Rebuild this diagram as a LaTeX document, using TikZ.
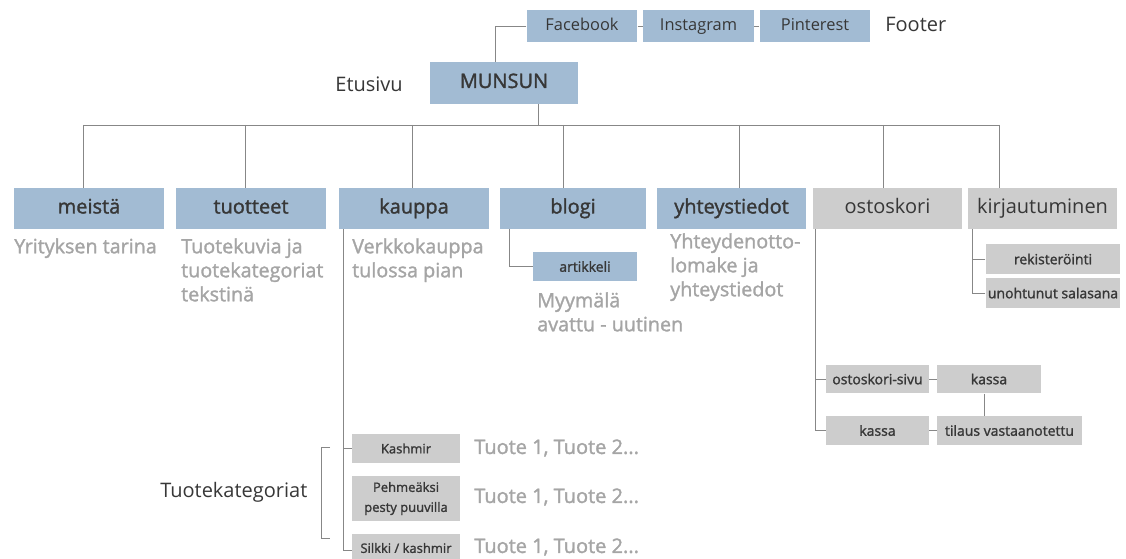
\documentclass[tikz,border=0pt]{standalone}
\usepackage{fontspec}
\setmainfont{Open Sans}
\newfontfamily\semi[FakeBold=1.5]{Open Sans}
\definecolor{boxblue}{RGB}{162,187,211}
\definecolor{boxgrey}{RGB}{205,205,205}
\definecolor{txtdark}{RGB}{55,55,55}
\definecolor{txtgrey}{RGB}{165,165,165}
\definecolor{linegrey}{RGB}{135,135,135}
\tikzset{
  topbox/.style={fill=boxblue, minimum width=112pt, minimum height=30.75pt, inner sep=0pt,
    text=txtdark, text height=10.5pt, text depth=3pt, font=\semi\fontsize{15}{18}\selectfont},
  greybox/.style={topbox, fill=boxgrey, font=\fontsize{15}{18}\selectfont},
  socialbox/.style={fill=boxblue, minimum width=83pt, minimum height=24pt, inner sep=0pt,
    text=txtdark, text height=9pt, text depth=2.5pt, font=\fontsize{12.3}{15}\selectfont},
  subbox/.style={fill=boxgrey, minimum height=21.5pt, inner sep=0pt, align=center,
    text=txtdark, font=\semi\fontsize{10.5}{15}\selectfont},
  desc/.style={anchor=north west, inner sep=0pt, align=left, text=txtgrey,
    font=\semi\fontsize{14.8}{18}\selectfont},
  tuote/.style={anchor=west, inner sep=0pt, text=txtgrey, font=\semi\fontsize{15}{18}\selectfont},
  sidetext/.style={inner sep=0pt, text=txtdark, font=\fontsize{15}{18}\selectfont},
  link/.style={draw=linegrey, line width=0.6pt}
}
\begin{document}
\begin{tikzpicture}[x=0.75pt,y=0.75pt,yscale=-1,xscale=1]
\useasboundingbox (0,0) rectangle (1126,559);

% Footer
\node[socialbox] (facebook) at (582,26) {Facebook};
\node[socialbox] (instagram) at (698.5,26) {Instagram};
\node[socialbox] (pinterest) at (815,26) {Pinterest};
\node[sidetext, anchor=base west] (footer) at (885,32) {Footer};

% Etusivu
\node[topbox, minimum width=111pt, minimum height=31.5pt] (munsun) at (504,83) {MUNSUN};
\node[sidetext, anchor=base east] (etusivu) at (403,92) {Etusivu};

% paasivut
\node[topbox] (meista) at (89,208.5) {meistä};
\node[topbox] (tuotteet) at (251,208.5) {tuotteet};
\node[topbox] (kauppa) at (414,208.5) {kauppa};
\node[topbox, minimum width=109.5pt] (blogi) at (573,208.5) {blogi};
\node[topbox] (yhteys) at (731.5,208.5) {yhteystiedot};
\node[greybox] (ostoskori) at (887.5,208.5) {ostoskori};
\node[greybox] (kirjaut) at (1042.5,208.5) {kirjautuminen};

% kuvaukset
\node[desc] (tarina) at (14,238) {Yrityksen tarina};
\node[desc] (tuotekuvat) at (181,238) {Tuotekuvia ja\\tuotekategoriat\\tekstinä};
\node[desc] (verkko) at (352,238) {Verkkokauppa\\tulossa pian};
\node[desc] (yhteydenotto) at (670,233) {Yhteydenotto-\\lomake ja\\yhteystiedot};
\node[desc] (uutinen) at (537,292) {Myymälä\\avattu - uutinen};

% alasivut
\node[subbox, fill=boxblue, minimum width=78pt, minimum height=21.75pt] (artikkeli) at (585,266.5) {artikkeli};
\node[subbox, minimum width=101pt, minimum height=22.5pt] (rekisteri) at (1053,259) {rekisteröinti};
\node[subbox, minimum width=101pt, minimum height=22.5pt] (salasana) at (1053,293) {unohtunut salasana};
\node[subbox, minimum width=77.25pt] (sivu) at (877.5,379) {ostoskori-sivu};
\node[subbox, minimum width=78pt] (kassa) at (989,379) {kassa};
\node[subbox, minimum width=77.25pt] (kassaB) at (877.5,430.5) {kassa};
\node[subbox, minimum width=108.75pt] (tilaus) at (1009.5,430.5) {tilaus vastaanotettu};

% tuotekategoriat
\node[subbox, minimum width=81pt, font=\semi\fontsize{9.75}{15}\selectfont] (kashmir) at (406,448.5) {Kashmir};
\node[subbox, minimum width=81pt, minimum height=33.75pt, font=\semi\fontsize{9.75}{15}\selectfont] (puuvilla) at (406,498.5) {Pehmeäksi\\pesty puuvilla};
\node[subbox, minimum width=81pt, font=\semi\fontsize{9.75}{15}\selectfont] (silkki) at (406,548) {Silkki / kashmir};
\node[tuote] (tuoteA) at (474,448) {Tuote 1, Tuote 2...};
\node[tuote] (tuoteB) at (474,497) {Tuote 1, Tuote 2...};
\node[tuote] (tuoteC) at (474,547) {Tuote 1, Tuote 2...};
\node[sidetext, anchor=base west] (kategoriat) at (160,497) {Tuotekategoriat};

% viivat
\coordinate (fbkulma) at (495,26);
\draw[link] (facebook.west) -- (fbkulma) -- (fbkulma |- munsun.north);
\draw[link] (facebook.east) -- (instagram.west);
\draw[link] (instagram.east) -- (pinterest.west);
\coordinate (runko) at (538,125);
\draw[link] (runko |- munsun.south) -- (runko);
\draw[link] (83,125) -- (999,125);
\foreach \sivu/\x in {meista/83, tuotteet/245, kauppa/412, blogi/563, yhteys/739, ostoskori/883, kirjaut/999}
  \draw[link] (\x,125) coordinate (pudotus) -- (pudotus |- \sivu.north);
\draw[link] (artikkeli.west) -| ([xshift=7.5pt]blogi.south west);
\draw[link] (rekisteri.west) -| ([xshift=3.75pt]kirjaut.south west);
\draw[link] (salasana.west) -| ([xshift=3.75pt]kirjaut.south west);
\draw[link] (sivu.west) -| ([xshift=2.25pt]ostoskori.south west);
\draw[link] (kassaB.west) -| ([xshift=2.25pt]ostoskori.south west);
\draw[link] (sivu.east) -- (kassa.west);
\draw[link] ([xshift=-3.75pt]kassa.south) -- ([xshift=-3.75pt]kassa.south |- tilaus.north);
\draw[link] (kassaB.east) -- (tilaus.west);
\draw[link] (kashmir.west) -| ([xshift=3pt]kauppa.south west);
\draw[link] ([yshift=1.5pt]silkki.west) -| ([xshift=3pt]kauppa.south west);
% sulku
\draw[link] (330,447) -- (321,447) -- (321,538) -- (330,538);

\end{tikzpicture}
\end{document}
